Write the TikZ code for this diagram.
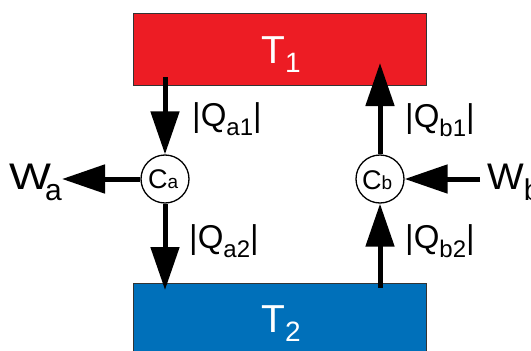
\documentclass[tikz,border=0pt]{standalone}
\usepackage{fontspec}
\setmainfont{Liberation Sans}
\usetikzlibrary{arrows.meta}
\definecolor{hotred}{RGB}{237,28,36}
\definecolor{coldblue}{RGB}{0,112,186}
\newcommand{\qlbl}[1]{{\fontsize{33}{33}\selectfont |Q\raisebox{-9pt}{\fontsize{24}{24}\selectfont #1}|}}
\newcommand{\tlbl}[1]{{\fontsize{39}{39}\selectfont T\raisebox{-9pt}{\fontsize{28}{28}\selectfont #1}}}
\newcommand{\wlbl}[3]{{\fontsize{37}{37}\selectfont \scalebox{#1}[1]{W}\kern#2\raisebox{-11pt}{\fontsize{30}{30}\selectfont #3}}}
\newcommand{\clbl}[1]{{\fontsize{27}{27}\selectfont C{\fontsize{19}{19}\selectfont #1}}}
\begin{document}
\begin{tikzpicture}[x=1pt,y=-1pt,
  box/.style={draw=black!80, line width=1.2pt, inner sep=0pt, anchor=north west, minimum width=293pt},
  eng/.style={circle, draw, line width=1.3pt, minimum size=48pt, inner sep=0pt, fill=white},
  flow/.style={line width=5pt, -{Triangle[length=43pt,width=28pt]}},
  lbl/.style={inner sep=0pt, anchor=base west},
  tl/.style={inner sep=0pt, anchor=base west, text=white}]
\useasboundingbox (0,0) rectangle (531,351);
\node[box, fill=hotred, minimum height=72pt] (hot) at (133,13) {};
\node[box, fill=coldblue, minimum height=90pt] (cold) at (133,283) {};
\node[eng] (ca) at (165,179) {};
\node[eng] (cb) at (380,179) {};
\coordinate (a1s) at (165,77);
\coordinate (a2e) at (165,290);
\coordinate (b2s) at (380,288);
\coordinate (b1e) at (380,63);
\coordinate (wae) at (62,179);
\coordinate (wbs) at (480,179);
\draw[flow] (a1s) -- (ca.north);
\draw[flow] (ca.south) -- (a2e);
\draw[flow] (b2s) -- (cb.south);
\draw[flow] (cb.north) -- (b1e);
\draw[flow] (ca.west) -- (wae);
\draw[flow] (wbs) -- (cb.east);
\node[tl] (t1) at (261,63) {\tlbl{1}};
\node[tl] (t2) at (261,332) {\tlbl{2}};
\node[lbl] (qa1) at (192,126) {\qlbl{a1}};
\node[lbl] (qb1) at (405,127) {\qlbl{b1}};
\node[lbl] (qa2) at (189,248) {\qlbl{a2}};
\node[lbl] (qb2) at (405,248) {\qlbl{b2}};
\node[lbl] (wa) at (9,189) {\wlbl{1.2}{-6pt}{a}};
\node[lbl] (wb) at (487,189) {\wlbl{1.05}{0pt}{b}};
\node[lbl] (cat) at (148,188) {\clbl{a}};
\node[lbl] (cbt) at (362,189) {\clbl{b}};
\end{tikzpicture}
\end{document}
